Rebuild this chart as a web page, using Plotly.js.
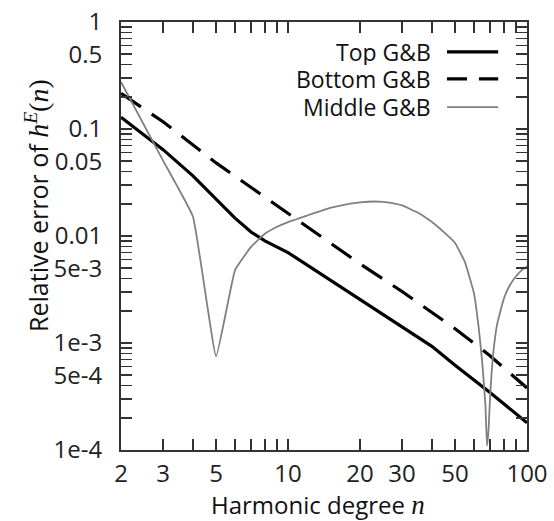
<!DOCTYPE html>
<html>
<head>
<meta charset="utf-8">
<script src="https://cdn.plot.ly/plotly-3.0.1.min.js"></script>
<style>
html,body{margin:0;padding:0;background:#fff;}
#chart{width:554px;height:521px;}
</style>
</head>
<body>
<div id="chart"></div>
<script>
// ---- data ----
const topN = [2, 3, 4, 5, 6, 7, 8, 10, 15, 20, 30, 40, 50, 70, 100];
const topErr = [0.129, 0.0641, 0.0365, 0.0223, 0.0147, 0.0109, 0.0090, 0.0070, 0.00387, 0.00252, 0.00141, 0.00093, 0.00062, 0.000344, 0.00018];

const bottomN = [2, 3, 5, 10, 20, 30, 50, 70, 100];
const bottomErr = [0.215, 0.117, 0.0482, 0.0163, 0.0055, 0.00303, 0.00136, 0.00076, 0.00038];

const middleN = [2, 3, 4, 5, 6, 7, 8, 9, 10, 12, 15, 18, 20, 23, 25, 28, 30, 35, 40, 45, 50, 55, 60, 63, 65, 67, 68, 69, 70, 71, 72, 75, 80, 85, 90, 95, 100];
const middleErr = [0.275, 0.0506, 0.0152, 0.00075, 0.0048, 0.0079, 0.0105, 0.0122, 0.0135, 0.0155, 0.0183, 0.0200, 0.0206, 0.0210, 0.0208, 0.0201, 0.0193, 0.0165, 0.0135, 0.0108, 0.0086, 0.0057, 0.0029, 0.0013, 0.00065, 0.00026, 0.00011, 0.00015, 0.0003, 0.0005, 0.00075, 0.0015, 0.0026, 0.0035, 0.0042, 0.0048, 0.0052];

const seriesNames = ["Top G&B", "Bottom G&B", "Middle G&B"];

const xTickVals = [2, 3, 4, 5, 6, 7, 8, 9, 10, 20, 30, 40, 50, 60, 70, 80, 90, 100];
const xTickText = ["2", "3", "", "5", "", "", "", "", "10", "20", "30", "", "50", "", "", "", "", "100"];

const yTickVals = [];
const yTickText = [];
const yLabelled = {"1e-4":"1e-4","5e-4":"5e-4","1e-3":"1e-3","5e-3":"5e-3","1e-2":"0.01","5e-2":"0.05","1e-1":"0.1","5e-1":"0.5","1e+0":"1"};
for (let e = -4; e <= 0; e++) {
  for (let m = 1; m <= 9; m++) {
    if (e === 0 && m > 1) break;
    const v = m * Math.pow(10, e);
    const key = m + "e" + (e >= 0 ? "+" + e : e);
    yTickVals.push(v);
    yTickText.push(yLabelled[key] || "");
  }
}

const FONT = "Open Sans, Noto Sans, DejaVu Sans, sans-serif";
const MATH = "font-family:'Liberation Serif','DejaVu Serif',serif";

const traces = [
  {x: topN, y: topErr, name: seriesNames[0], type: "scatter", mode: "lines",
   line: {color: "#000000", width: 3.2}},
  {x: bottomN, y: bottomErr, name: seriesNames[1], type: "scatter", mode: "lines",
   line: {color: "#000000", width: 3.2, dash: "24px,13px"}},
  {x: middleN, y: middleErr, name: seriesNames[2], type: "scatter", mode: "lines",
   line: {color: "#808080", width: 1.8, shape: "spline", smoothing: 0.3}}
];

const axisCommon = {
  type: "log",
  showgrid: false,
  zeroline: false,
  showline: true,
  linecolor: "#333333",
  linewidth: 2,
  mirror: "ticks",
  ticks: "inside",
  ticklen: 11,
  tickwidth: 1.5,
  tickcolor: "#333333",
  tickmode: "array",
  tickfont: {family: FONT, size: 24, color: "#222222"}
};

// legend drawn manually so that the sample lines sit right of the labels
const legendY = [0.930, 0.867, 0.801];
const legendStyles = [
  {color: "#000000", width: 3.2},
  {color: "#000000", width: 3.2, dash: "20px,12px"},
  {color: "#808080", width: 1.8}
];
const annotations = seriesNames.map((name, i) => ({
  xref: "paper", yref: "paper", x: 0.768, y: legendY[i],
  xanchor: "right", yanchor: "middle", showarrow: false,
  height: 26, valign: "middle",
  text: name, font: {family: FONT, size: 23, color: "#111111"}
}));
// axis titles placed as annotations so they sit where the reference has them
annotations.push({
  xref: "paper", yref: "paper", x: -0.205, y: 0.572,
  xanchor: "center", yanchor: "middle", showarrow: false, textangle: -90,
  text: "Relative error of <span style=\"" + MATH + ";font-size:28px\"><i>h</i><sup><i>E</i></sup>(<i>n</i>)</span>",
  font: {family: FONT, size: 25, color: "#111111"}
});
annotations.push({
  xref: "paper", yref: "paper", x: 0.485, y: -0.127,
  xanchor: "center", yanchor: "middle", showarrow: false,
  text: "Harmonic degree <span style=\"" + MATH + ";font-size:27px\"><i>n</i></span>",
  font: {family: FONT, size: 24, color: "#111111"}
});
const shapes = seriesNames.map((name, i) => ({
  type: "line", xref: "paper", yref: "paper",
  x0: 0.803, x1: 0.929, y0: legendY[i], y1: legendY[i],
  line: legendStyles[i]
}));

const layout = {
  width: 554, height: 521,
  margin: {l: 121, r: 27, t: 22, b: 71},
  paper_bgcolor: "#ffffff",
  plot_bgcolor: "#ffffff",
  showlegend: false,
  font: {family: FONT, size: 24, color: "#111111"},
  xaxis: Object.assign({}, axisCommon, {
    range: [Math.log10(2), 2],
    tickvals: xTickVals, ticktext: xTickText,
    ticklabelstandoff: 1
  }),
  yaxis: Object.assign({}, axisCommon, {
    range: [-4, 0],
    tickvals: yTickVals, ticktext: yTickText,
    ticklabelstandoff: 12
  }),
  annotations: annotations,
  shapes: shapes
};

Plotly.newPlot("chart", traces, layout, {displayModeBar: false, staticPlot: true});
</script>
</body>
</html>
